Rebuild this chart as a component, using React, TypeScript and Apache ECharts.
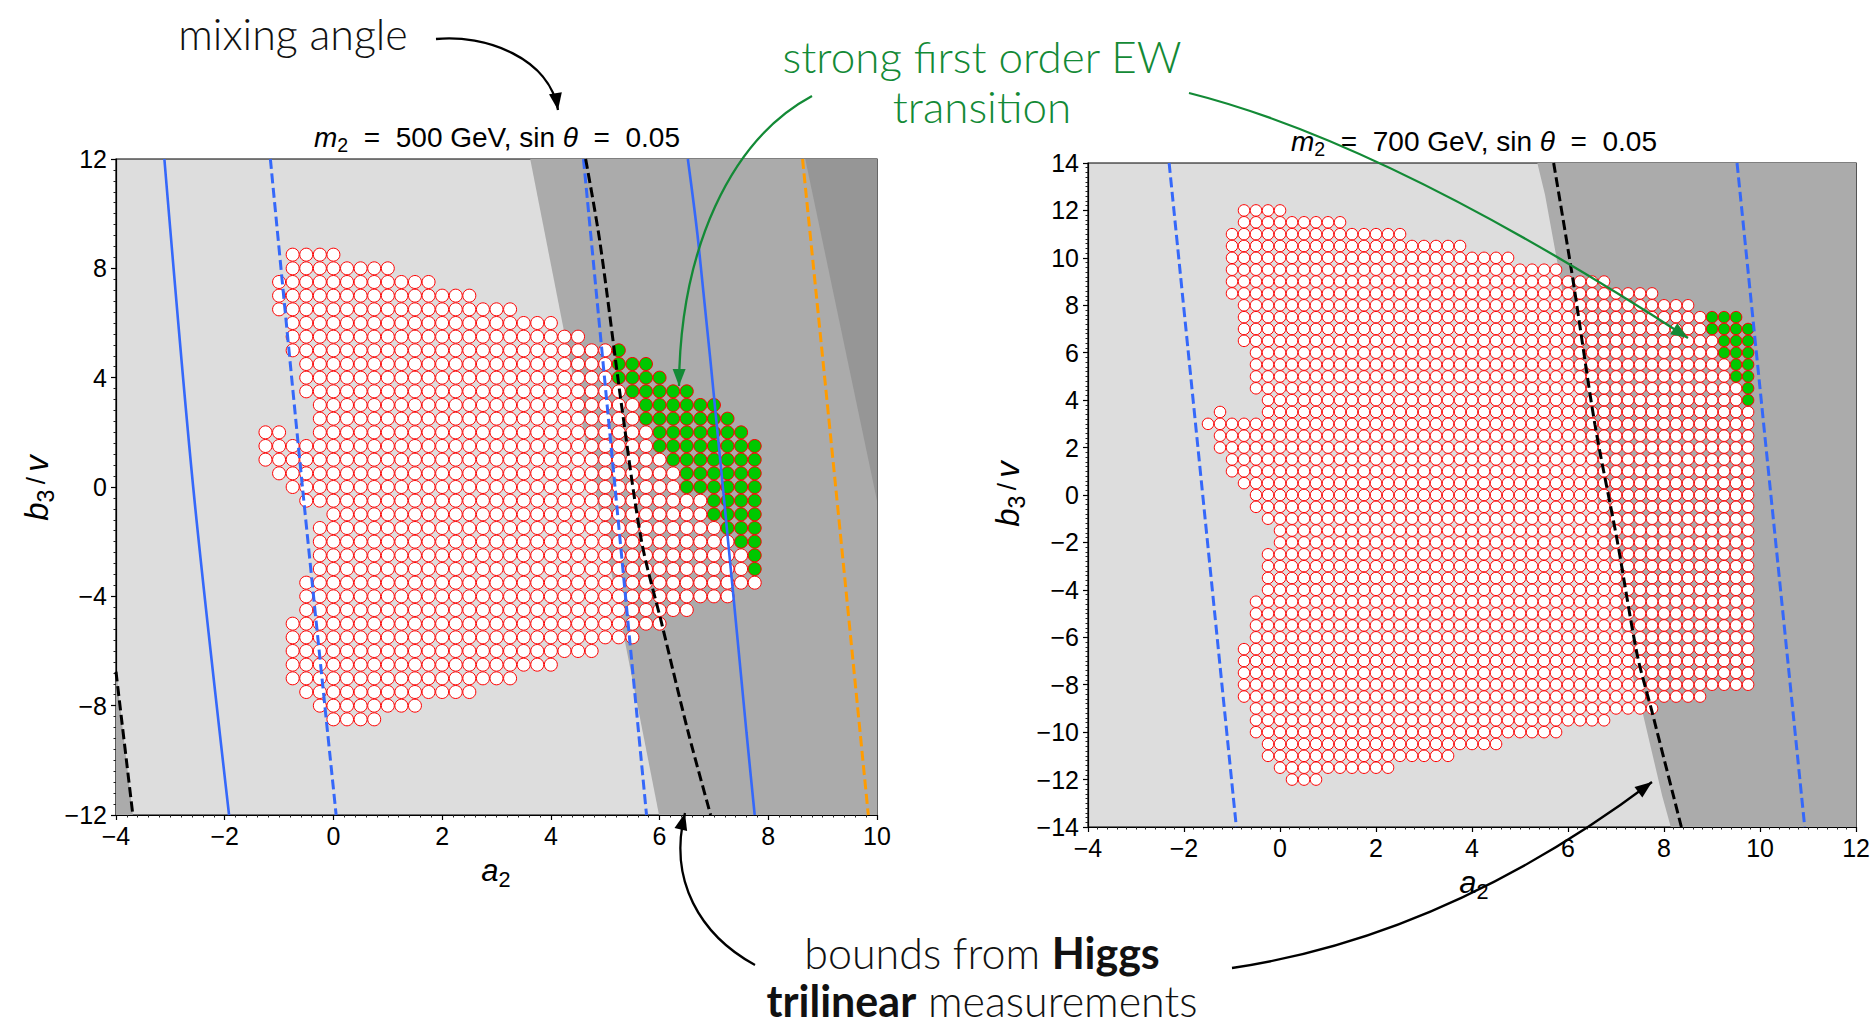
import React, { useEffect, useRef } from 'react';
import * as echarts from 'echarts';

// ---------------- axes ----------------
const leftXRange = [-4, 10];
const leftYRange = [-12, 12];
const rightXRange = [-4, 12];
const rightYRange = [-14, 14];
const leftXInterval = 2;
const leftYInterval = 4;
const rightXInterval = 2;
const rightYInterval = 2;

// scan step along a2 (points are listed as row segments: [b3/v, first a2, last a2])
const A2_STEP = 0.25;

// ---------------- left panel: m2 = 500 GeV ----------------
const leftRedRows = [
  [8.5, -0.75, 0], [8, -0.75, 1.0], [7.5, -1.0, 1.75], [7, -1.0, 2.5], [6.5, -1.0, 3.25],
  [6, -0.75, 4.0], [5.5, -0.75, 4.5], [5, -0.75, 5.0], [4.5, -0.5, 5.0], [4, -0.5, 5.0],
  [3.5, -0.5, 5.25], [3, -0.25, 5.5], [2.5, -0.25, 5.5], [2, -1.25, -1.0], [2, -0.25, 5.75],
  [1.5, -1.25, 5.75], [1, -1.25, 6.0], [0.5, -1.0, 6.25], [0, -0.75, 6.25], [-0.5, -0.5, 6.75],
  [-1, 0, 6.75], [-1.5, -0.25, 7.0], [-2, -0.25, 7.25], [-2.5, -0.25, 7.5], [-3, -0.25, 7.5],
  [-3.5, -0.5, 7.75], [-4, -0.5, 7.25], [-4.5, -0.5, 6.5], [-5, -0.75, 6.0], [-5.5, -0.75, 5.5],
  [-6, -0.75, 4.75], [-6.5, -0.75, 4.0], [-7, -0.75, 3.25], [-7.5, -0.5, 2.5], [-8, -0.25, 1.5],
  [-8.5, 0, 0.75],
];
const leftGreenRows = [
  [5, 5.25, 5.25], [4.5, 5.25, 5.75], [4, 5.25, 6.0], [3.5, 5.5, 6.5], [3, 5.75, 7.0],
  [2.5, 5.75, 7.25], [2, 6.0, 7.5], [1.5, 6.0, 7.75], [1, 6.25, 7.75], [0.5, 6.5, 7.75],
  [0, 6.5, 7.75], [-0.5, 7.0, 7.75], [-1, 7.0, 7.75], [-1.5, 7.25, 7.75], [-2, 7.5, 7.75],
  [-2.5, 7.75, 7.75], [-3, 7.75, 7.75],
];
const leftShadeMid = [[3.62, 12], [10, 12], [10, -12], [5.99, -12]];
const leftShadeDark = [[8.68, 12], [10, 12], [10, -0.5]];
const leftShadeCorner = [[-4, -6.76], [-3.69, -12], [-4, -12]];
const leftBlueSolidA = [[-3.11, 12], [-2.58, 0], [-1.92, -12]];
const leftBlueDashA = [[-1.16, 12], [-0.57, 0], [0.05, -12]];
const leftBlueDashB = [[4.6, 12], [5.18, 0], [5.76, -12]];
const leftBlackDash = [[4.64, 12], [4.9, 9], [5.3, 3], [5.67, -2], [6.04, -5], [6.53, -9], [6.94, -12]];
const leftBlueSolidB = [[6.52, 12], [6.71, 9], [7.14, 0.5], [7.6, -9], [7.75, -12]];
const leftOrangeDash = [[8.63, 12], [9.24, 0], [9.84, -12]];
const leftBlackDashCorner = [[-4, -6.76], [-3.69, -12]];

// ---------------- right panel: m2 = 700 GeV ----------------
const rightRedRows = [
  [12, -0.75, 0], [11.5, -0.75, 1.25], [11, -1.0, 2.5], [10.5, -1.0, 3.75], [10, -1.0, 4.75],
  [9.5, -1.0, 5.75], [9, -1.0, 6.75], [8.5, -1.0, 7.75], [8, -0.75, 8.5], [7.5, -0.75, 8.75],
  [7, -0.75, 8.75], [6.5, -0.75, 9.0], [6, -0.5, 9.0], [5.5, -0.5, 9.25], [5, -0.5, 9.25],
  [4.5, -0.5, 9.5], [4, -0.25, 9.5], [3.5, -1.25, -1.25], [3.5, -0.25, 9.75], [3, -1.5, 9.75],
  [2.5, -1.25, 9.75], [2, -1.25, 9.75], [1.5, -1.0, 9.75], [1, -1.0, 9.75], [0.5, -0.75, 9.75],
  [0, -0.5, 9.75], [-0.5, -0.5, 9.75], [-1, -0.25, 9.75], [-1.5, 0, 9.75], [-2, 0, 9.75],
  [-2.5, -0.25, 9.75], [-3, -0.25, 9.75], [-3.5, -0.25, 9.75], [-4, -0.25, 9.75], [-4.5, -0.5, 9.75],
  [-5, -0.5, 9.75], [-5.5, -0.5, 9.75], [-6, -0.5, 9.75], [-6.5, -0.75, 9.75], [-7, -0.75, 9.75],
  [-7.5, -0.75, 9.75], [-8, -0.75, 9.75], [-8.5, -0.75, 8.75], [-9, -0.5, 7.75], [-9.5, -0.5, 6.75],
  [-10, -0.5, 5.75], [-10.5, -0.25, 4.5], [-11, -0.25, 3.5], [-11.5, 0, 2.25], [-12, 0.25, 0.75],
];
const rightGreenRows = [
  [7.5, 9.0, 9.5], [7, 9.0, 9.75], [6.5, 9.25, 9.75], [6, 9.25, 9.75], [5.5, 9.5, 9.75],
  [5, 9.5, 9.75], [4.5, 9.75, 9.75], [4, 9.75, 9.75],
];
const rightShadeMid = [
  [5.36, 14], [12, 14], [12, -14], [8.14, -14], [7.96, -12.68], [7.55, -9.15], [7.22, -6.7],
  [6.8, -2], [6.3, 3], [5.85, 9], [5.52, 12.66],
];
const rightBlueDashA = [[-2.31, 14], [-0.91, -14]];
const rightBlueDashB = [[9.52, 14], [10.93, -14]];
const rightBlackDash = [[5.7, 14], [6.1, 9.1], [6.56, 2.97], [7.02, -1.88], [7.44, -6.73], [7.75, -9.15], [8.36, -14]];

// ---------------- styles ----------------
const FONT = '"Liberation Sans", Arial, Helvetica, sans-serif';
const ANN = 'Lato, "Open Sans", "Noto Sans", sans-serif';
const GREEN = '#138a36';
const BLUE = '#3568fa';
const ORANGE = '#ff9c00';
const LIGHT = '#dddddd';
const MID = '#ababab';
const DARK = '#969696';

function expandRows(rows: number[][]): number[][] {
  const pts: number[][] = [];
  rows.forEach(([b, s, e]) => {
    const n = Math.round((e - s) / A2_STEP);
    for (let k = 0; k <= n; k++) pts.push([s + k * A2_STEP, b]);
  });
  return pts;
}

const minus = (v: number) => String(v).replace('-', '\u2212');

function makeAxis(range: number[], interval: number, gridIndex: number, isY: boolean) {
  return {
    type: 'value',
    gridIndex,
    min: range[0],
    max: range[1],
    interval,
    axisLine: { show: true, onZero: false, lineStyle: { color: '#000', width: 1.2 } },
    axisTick: { show: true, inside: false, length: 5, lineStyle: { color: '#000', width: 1.2 } },
    minorTick: { show: true, splitNumber: 10, length: 2.5, lineStyle: { color: '#222', width: 1 } },
    splitLine: { show: false },
    minorSplitLine: { show: false },
    axisLabel: {
      show: true, color: '#000', fontSize: 25, fontFamily: FONT, margin: isY ? 9 : 8,
      formatter: minus, hideOverlap: false, showMinLabel: true, showMaxLabel: true,
    },
  };
}

function shade(pts: number[][], color: string, idx: number) {
  return {
    type: 'custom', xAxisIndex: idx, yAxisIndex: idx, coordinateSystem: 'cartesian2d',
    silent: true, z: 1, clip: true,
    data: [[pts[0][0], pts[0][1]]],
    renderItem: (_p: any, api: any) => ({
      type: 'polygon',
      shape: { points: pts.map((p) => api.coord(p)) },
      style: { fill: color },
    }),
  };
}

function curve(pts: number[][], color: string, dashed: boolean, idx: number, width = 3) {
  return {
    type: 'line', xAxisIndex: idx, yAxisIndex: idx, data: pts, showSymbol: false, symbol: 'none',
    smooth: 0.3, clip: true, silent: true, z: 3,
    lineStyle: { color, width, type: dashed ? [10, 4.5] : 'solid', cap: 'butt' },
  };
}

function dots(pts: number[][], fill: string, size: number, idx: number) {
  return {
    type: 'scatter', xAxisIndex: idx, yAxisIndex: idx, data: pts, symbol: 'circle', symbolSize: size,
    silent: true, z: 2, clip: true,
    itemStyle: { color: fill, borderColor: '#ff0000', borderWidth: 1, opacity: 1 },
  };
}

function arrowHead(tip: number[], from: number[], color: string, len = 17, half = 6.5) {
  const dx = tip[0] - from[0];
  const dy = tip[1] - from[1];
  const d = Math.hypot(dx, dy);
  const ux = dx / d;
  const uy = dy / d;
  const bx = tip[0] - ux * len;
  const by = tip[1] - uy * len;
  return {
    type: 'polygon', silent: true, z: 100,
    shape: { points: [tip, [bx - uy * half, by + ux * half], [bx + uy * half, by - ux * half]] },
    style: { fill: color },
  };
}

function arrow(p0: number[], c1: number[], c2: number[] | null, p3: number[], color: string, w = 2.3) {
  const shape: any = { x1: p0[0], y1: p0[1], x2: p3[0], y2: p3[1], cpx1: c1[0], cpy1: c1[1] };
  if (c2) { shape.cpx2 = c2[0]; shape.cpy2 = c2[1]; }
  return [
    { type: 'bezierCurve', silent: true, z: 100, shape, style: { stroke: color, lineWidth: w, fill: null } },
    arrowHead(p3, c2 || c1, color),
  ];
}

function mathText(x: number, y: number, text: string, size: number, rotate = false) {
  return {
    type: 'text', x, y, rotation: rotate ? Math.PI / 2 : 0, silent: true, z: 50,
    style: {
      text, align: 'center', verticalAlign: 'middle', fill: '#000',
      rich: {
        i: { fontFamily: FONT, fontStyle: 'italic', fontSize: size, lineHeight: size * 1.3, fill: '#000' },
        r: { fontFamily: FONT, fontSize: size, lineHeight: size * 1.3, fill: '#000' },
        q: { fontFamily: FONT, fontSize: size * 0.8, lineHeight: size * 1.3, fill: '#000' },
        s: { fontFamily: FONT, fontSize: size * 0.7, lineHeight: size * 0.55, verticalAlign: 'bottom', fill: '#000' },
      },
    },
  };
}

function annText(x: number, y: number, text: string, color: string, size = 44, lh = 40) {
  return {
    type: 'text', x, y, silent: true, z: 50,
    style: {
      text, align: 'center', verticalAlign: 'middle', fill: color,
      rich: {
        l: { fontFamily: ANN, fontWeight: 300, fontSize: size, lineHeight: lh, fill: color },
        b: { fontFamily: ANN, fontWeight: 'bold', fontSize: size, lineHeight: lh, fill: color },
      },
    },
  };
}

function buildOption() {
  const grids = [
    { left: 116, top: 159, width: 761, height: 656 },
    { left: 1088, top: 163, width: 771, height: 664 },
  ].map((g) => ({ ...g, show: true, backgroundColor: LIGHT, borderColor: '#000', borderWidth: 1.2, containLabel: false }));

  const series: any[] = [
    shade(leftShadeMid, MID, 0),
    shade(leftShadeDark, DARK, 0),
    shade(leftShadeCorner, MID, 0),
    shade(rightShadeMid, MID, 1),
    dots(expandRows(leftRedRows), '#ffffff', 13, 0),
    dots(expandRows(leftGreenRows), '#00c800', 13, 0),
    dots(expandRows(rightRedRows), '#ffffff', 11.5, 1),
    dots(expandRows(rightGreenRows), '#00c800', 11.5, 1),
    curve(leftBlueSolidA, BLUE, false, 0, 2.6),
    curve(leftBlueDashA, BLUE, true, 0),
    curve(leftBlueDashB, BLUE, true, 0),
    curve(leftBlackDash, '#000', true, 0),
    curve(leftBlueSolidB, BLUE, false, 0, 2.6),
    curve(leftOrangeDash, ORANGE, true, 0),
    curve(leftBlackDashCorner, '#000', true, 0),
    curve(rightBlueDashA, BLUE, true, 1),
    curve(rightBlueDashB, BLUE, true, 1),
    curve(rightBlackDash, '#000', true, 1),
  ];

  const graphic: any[] = [
    mathText(497, 137, '{i|m}{s|2}{r|  =  500 GeV, sin }{i|θ}{r|  =  0.05}', 28),
    mathText(1474, 141, '{i|m}{s|2}{r|  =  700 GeV, sin }{i|θ}{r|  =  0.05}', 28),
    mathText(496, 870, '{i|a}{s|2}', 31),
    mathText(1474, 882, '{i|a}{s|2}', 31),
    mathText(36, 488, '{i|b}{s|3}{q|\u2009/\u2009}{i|v}', 33, true),
    mathText(1007, 494, '{i|b}{s|3}{q|\u2009/\u2009}{i|v}', 33, true),
    annText(293, 33, '{l|mixing angle}', '#111', 43),
    annText(982, 81, '{l|strong first order EW}\n{l|transition}', GREEN, 44, 50),
    annText(982, 976, '{l|bounds from }{b|Higgs}\n{b|trilinear}{l| measurements}', '#111', 43, 48),
    ...arrow([436, 39], [485, 34], [550, 58], [558, 110], '#000'),
    ...arrow([812, 96], [730, 140], [680, 250], [679, 386], GREEN),
    ...arrow([1189, 93], [1388, 143], null, [1688, 338], GREEN),
    ...arrow([755, 965], [700, 935], [668, 880], [685, 813], '#000'),
    ...arrow([1232, 968], [1447, 936], null, [1652, 782], '#000'),
  ];

  return {
    animation: false,
    backgroundColor: '#ffffff',
    grid: grids,
    xAxis: [makeAxis(leftXRange, leftXInterval, 0, false), makeAxis(rightXRange, rightXInterval, 1, false)],
    yAxis: [makeAxis(leftYRange, leftYInterval, 0, true), makeAxis(rightYRange, rightYInterval, 1, true)],
    series,
    graphic,
  };
}

export default function App() {
  const ref = useRef<HTMLDivElement>(null);
  useEffect(() => {
    if (!ref.current) return;
    const chart = echarts.init(ref.current, undefined, { renderer: 'svg' });
    chart.setOption(buildOption() as any);
    return () => chart.dispose();
  }, []);
  return (
    <div
      ref={ref}
      style={{ position: 'absolute', left: 0, top: 0, width: 1873, height: 1025, background: '#fff' }}
    />
  );
}
